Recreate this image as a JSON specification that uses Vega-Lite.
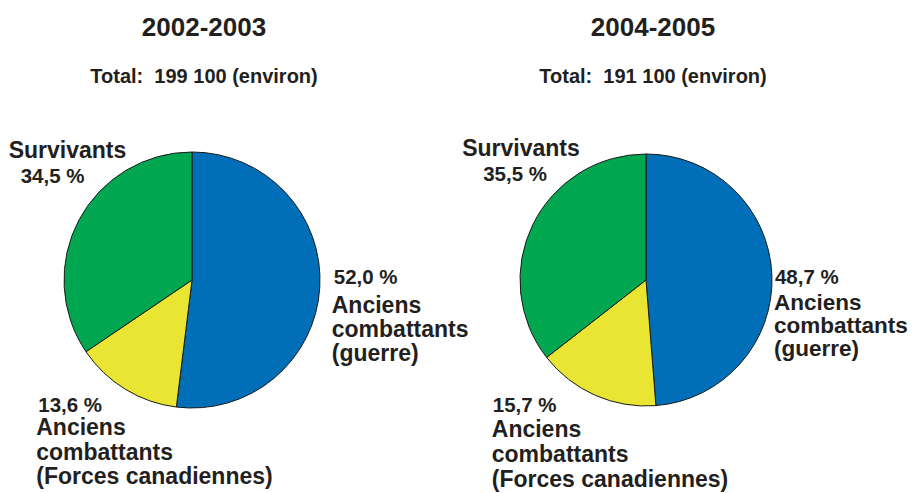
{
  "$schema": "https://vega.github.io/schema/vega-lite/v6.json",
  "background": "white",
  "padding": {"left": 0, "top": 15, "right": 0, "bottom": 0},
  "bounds": "flush",
  "spacing": 70,
  "config": {
    "view": {"stroke": null},
    "font": "Liberation Sans",
    "title": {
      "font": "Liberation Sans",
      "fontSize": 26,
      "fontWeight": "bold",
      "color": "#231f20",
      "subtitleFont": "Liberation Sans",
      "subtitleFontSize": 20,
      "subtitleFontWeight": "bold",
      "subtitleColor": "#231f20",
      "subtitlePadding": 26,
      "offset": 43,
      "anchor": "middle",
      "frame": "group"
    }
  },
  "datasets": {
    "pies": [
      {"period": "2002-2003", "k": 1, "cat": "Anciens combattants (guerre)", "value": 52.0, "pct": "52,0 %", "label": "Anciens\ncombattants\n(guerre)"},
      {"period": "2002-2003", "k": 2, "cat": "Anciens combattants (Forces canadiennes)", "value": 13.6, "pct": "13,6 %", "label": "Anciens\ncombattants\n(Forces canadiennes)"},
      {"period": "2002-2003", "k": 3, "cat": "Survivants", "value": 34.5, "pct": "34,5 %", "label": "Survivants"},
      {"period": "2004-2005", "k": 1, "cat": "Anciens combattants (guerre)", "value": 48.7, "pct": "48,7 %", "label": "Anciens\ncombattants\n(guerre)"},
      {"period": "2004-2005", "k": 2, "cat": "Anciens combattants (Forces canadiennes)", "value": 15.7, "pct": "15,7 %", "label": "Anciens\ncombattants\n(Forces canadiennes)"},
      {"period": "2004-2005", "k": 3, "cat": "Survivants", "value": 35.5, "pct": "35,5 %", "label": "Survivants"}
    ]
  },
  "hconcat": [
    {
      "width": 384,
      "height": 300,
      "title": {"text": "2002-2003", "subtitle": "Total:\u00a0 199 100 (environ)", "dx": 12},
      "data": {"name": "pies"},
      "transform": [{"filter": "datum.period == '2002-2003'"}],
      "encoding": {
        "theta": {"field": "value", "type": "quantitative", "stack": true},
        "order": {"field": "k", "type": "quantitative"},
        "detail": {"field": "cat", "type": "nominal"}
      },
      "layer": [
        {
          "mark": {"type": "arc", "outerRadius": 128, "stroke": "#1a1a1a", "strokeWidth": 1},
          "encoding": {
            "color": {
              "field": "cat", "type": "nominal", "legend": null,
              "scale": {
                "domain": ["Anciens combattants (guerre)", "Anciens combattants (Forces canadiennes)", "Survivants"],
                "range": ["#006fb7", "#e9e532", "#00a650"]
              }
            }
          }
        },
        {
          "mark": {"type": "text", "radius": 130, "align": "left", "baseline": "alphabetic", "dx": 12, "dy": -4, "fontSize": 20.5, "fontWeight": "bold", "color": "#231f20"},
          "encoding": {"text": {"condition": {"test": "datum.k == 1", "field": "pct"}, "value": ""}}
        },
        {
          "mark": {"type": "text", "radius": 130, "align": "left", "baseline": "alphabetic", "dx": 10, "dy": 25, "fontSize": 23, "fontWeight": "bold", "lineBreak": "\n", "lineHeight": 24, "color": "#231f20"},
          "encoding": {"text": {"condition": {"test": "datum.k == 1", "field": "label"}, "value": ""}}
        },
        {
          "mark": {"type": "text", "radius": 80, "align": "left", "baseline": "alphabetic", "dx": -112, "dy": 64, "fontSize": 20.5, "fontWeight": "bold", "color": "#231f20"},
          "encoding": {"text": {"condition": {"test": "datum.k == 2", "field": "pct"}, "value": ""}}
        },
        {
          "mark": {"type": "text", "radius": 80, "align": "left", "baseline": "alphabetic", "dx": -114, "dy": 87, "fontSize": 23, "fontWeight": "bold", "lineBreak": "\n", "lineHeight": 24.5, "color": "#231f20"},
          "encoding": {"text": {"condition": {"test": "datum.k == 2", "field": "label"}, "value": ""}}
        },
        {
          "mark": {"type": "text", "radius": 130, "align": "left", "baseline": "alphabetic", "dx": -68.5, "dy": -61.5, "fontSize": 23, "fontWeight": "bold", "color": "#231f20"},
          "encoding": {"text": {"condition": {"test": "datum.k == 3", "field": "label"}, "value": ""}}
        },
        {
          "mark": {"type": "text", "radius": 130, "align": "left", "baseline": "alphabetic", "dx": -56.5, "dy": -36.5, "fontSize": 20.5, "fontWeight": "bold", "color": "#231f20"},
          "encoding": {"text": {"condition": {"test": "datum.k == 3", "field": "pct"}, "value": ""}}
        }
      ]
    },
    {
      "width": 384,
      "height": 300,
      "title": {"text": "2004-2005", "subtitle": "Total:\u00a0 191 100 (environ)", "dx": 7},
      "data": {"name": "pies"},
      "transform": [{"filter": "datum.period == '2004-2005'"}],
      "encoding": {
        "theta": {"field": "value", "type": "quantitative", "stack": true},
        "order": {"field": "k", "type": "quantitative"},
        "detail": {"field": "cat", "type": "nominal"}
      },
      "layer": [
        {
          "mark": {"type": "arc", "outerRadius": 126, "stroke": "#1a1a1a", "strokeWidth": 1},
          "encoding": {
            "color": {
              "field": "cat", "type": "nominal", "legend": null,
              "scale": {
                "domain": ["Anciens combattants (guerre)", "Anciens combattants (Forces canadiennes)", "Survivants"],
                "range": ["#006fb7", "#e9e532", "#00a650"]
              }
            }
          }
        },
        {
          "mark": {"type": "text", "radius": 130, "align": "left", "baseline": "alphabetic", "dx": -1, "dy": 9, "fontSize": 20.5, "fontWeight": "bold", "color": "#231f20"},
          "encoding": {"text": {"condition": {"test": "datum.k == 1", "field": "pct"}, "value": ""}}
        },
        {
          "mark": {"type": "text", "radius": 130, "align": "left", "baseline": "alphabetic", "dx": -2, "dy": 35, "fontSize": 22.5, "fontWeight": "bold", "lineBreak": "\n", "lineHeight": 23, "color": "#231f20"},
          "encoding": {"text": {"condition": {"test": "datum.k == 1", "field": "label"}, "value": ""}}
        },
        {
          "mark": {"type": "text", "radius": 70, "align": "left", "baseline": "alphabetic", "dx": -125, "dy": 68, "fontSize": 20.5, "fontWeight": "bold", "color": "#231f20"},
          "encoding": {"text": {"condition": {"test": "datum.k == 2", "field": "pct"}, "value": ""}}
        },
        {
          "mark": {"type": "text", "radius": 70, "align": "left", "baseline": "alphabetic", "dx": -126, "dy": 93, "fontSize": 23, "fontWeight": "bold", "lineBreak": "\n", "lineHeight": 25, "color": "#231f20"},
          "encoding": {"text": {"condition": {"test": "datum.k == 2", "field": "label"}, "value": ""}}
        },
        {
          "mark": {"type": "text", "radius": 130, "align": "left", "baseline": "alphabetic", "dx": -67, "dy": -66.5, "fontSize": 23, "fontWeight": "bold", "color": "#231f20"},
          "encoding": {"text": {"condition": {"test": "datum.k == 3", "field": "label"}, "value": ""}}
        },
        {
          "mark": {"type": "text", "radius": 130, "align": "left", "baseline": "alphabetic", "dx": -46, "dy": -41.5, "fontSize": 20.5, "fontWeight": "bold", "color": "#231f20"},
          "encoding": {"text": {"condition": {"test": "datum.k == 3", "field": "pct"}, "value": ""}}
        }
      ]
    }
  ]
}
